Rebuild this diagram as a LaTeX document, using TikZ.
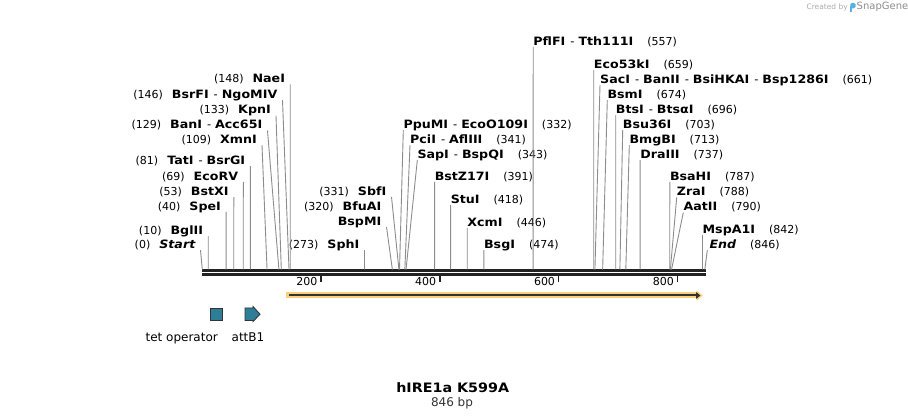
\documentclass[tikz,border=0pt]{standalone}
\usepackage{fontspec}
\setmainfont{DejaVu Sans}[BoldFont={DejaVu Sans Bold},ItalicFont={DejaVu Sans Oblique},BoldItalicFont={DejaVu Sans Bold Oblique},
  BoldFeatures={FakeStretch=1.1},BoldItalicFeatures={FakeStretch=1.1}]
\usetikzlibrary{arrows.meta}

\definecolor{featblue}{RGB}{46,126,152}
\definecolor{halo}{RGB}{255,208,122}
\definecolor{siteline}{RGB}{140,140,140}
\definecolor{axisgray}{RGB}{34,34,34}
\definecolor{snapblue}{RGB}{90,176,224}

\newcommand{\enzname}[1]{{\fontsize{11.5}{13}\selectfont\bfseries #1}}
\newcommand{\enzl}[2]{(#1)\hspace{9pt}\enzname{#2}}
\newcommand{\enzr}[2]{\enzname{#1}\hspace{14pt}(#2)}
\newcommand{\orenz}{{\mdseries\hspace{5pt}-\hspace{4pt}}}

\begin{document}
\begin{tikzpicture}[x=1pt,y=-1pt,
    lab/.style={inner sep=0pt, text height=8.4pt, text depth=1.6pt, font=\fontsize{11}{13}\selectfont},
    site/.style={draw=siteline, line width=0.9pt}]
    \useasboundingbox (0,0) rectangle (908,419);

    \foreach \p in {0,10,40,53,69,81,109,129,133,146,148,273,320,331,332,341,343,391,418,446,474,557,659,661,674,696,703,713,737,787,788,790,842,846}
        \coordinate (s\p) at ({202.3+0.594*\p},269.5);

    \draw[axisgray, line width=2.7pt] (202,270.6) -- (706,270.6);
    \draw[axisgray, line width=2.7pt] (202,274.3) -- (706,274.3);
    \foreach \t in {200,400,600,800} {
        \draw[axisgray, line width=1.4pt] ({202.3+0.594*\t},275.5) -- ++(0,7);
        \node[lab, anchor=east] (t\t) at ({202.3+0.594*\t-3.5},282) {\t};
    }

    % left side
    \node[lab, anchor=east] (naei)  at (285.2,79.3)  {\enzl{148}{NaeI}};
    \node[lab, anchor=east] (bsrfi) at (277.5,95)    {\enzl{146}{BsrFI\orenz NgoMIV}};
    \node[lab, anchor=east] (kpni)  at (271,110.5)   {\enzl{133}{KpnI}};
    \node[lab, anchor=east] (bani)  at (262.5,125.3) {\enzl{129}{BanI\orenz Acc65I}};
    \node[lab, anchor=east] (xmni)  at (257,140)     {\enzl{109}{XmnI}};
    \node[lab, anchor=east] (tati)  at (245.4,161)   {\enzl{81}{TatI\orenz BsrGI}};
    \node[lab, anchor=east] (ecorv) at (238.3,176.7) {\enzl{69}{EcoRV}};
    \node[lab, anchor=east] (bstxi) at (228.8,192)   {\enzl{53}{BstXI}};
    \node[lab, anchor=east] (spei)  at (221.1,206.7) {\enzl{40}{SpeI}};
    \node[lab, anchor=east] (bglii) at (203.2,231)   {\enzl{10}{BglII}};
    \node[lab, anchor=east] (start) at (195.5,245)   {\enzl{0}{\itshape Start}};
    \node[lab, anchor=east] (sphi)  at (359.5,245)   {\enzl{273}{SphI}};
    \node[lab, anchor=east] (bspmi) at (381.5,221.7) {\enzname{BspMI}};
    \node[lab, anchor=east] (bfuai) at (381.5,207.3) {\enzl{320}{BfuAI}};
    \node[lab, anchor=east] (sbfi)  at (386.5,191.7) {\enzl{331}{SbfI}};

    \draw[site] ([xshift=5pt]naei.south east) -- (s148);
    \draw[site] ([xshift=5pt]bsrfi.south east) -- (s146);
    \draw[site] ([xshift=5pt]kpni.south east) -- (s133);
    \draw[site] ([xshift=5pt]bani.south east) -- (s129);
    \draw[site] ([xshift=5pt]xmni.south east) -- (s109);
    \draw[site] ([xshift=5pt]tati.south east) -- (s81);
    \draw[site] ([xshift=5pt]ecorv.south east) -- (s69);
    \draw[site] ([xshift=5pt]bstxi.south east) -- (s53);
    \draw[site] ([xshift=5pt]spei.south east) -- (s40);
    \draw[site] ([xshift=5pt]bglii.south east) -- (s10);
    \draw[site] ([xshift=5pt]start.south east) -- (s0);
    \draw[site] ([xshift=5pt]sphi.south east) -- (s273);
    \draw[site] ([xshift=5pt]bspmi.south east) -- (s320);
    \draw[site] ([xshift=5pt]sbfi.south east) -- (s331);

    % right side
    \node[lab, anchor=west] (ppumi)  at (403.3,125)   {\enzr{PpuMI\orenz EcoO109I}{332}};
    \node[lab, anchor=west] (pcii)   at (410,140)     {\enzr{PciI\orenz AflIII}{341}};
    \node[lab, anchor=west] (sapi)   at (417.3,155)   {\enzr{SapI\orenz BspQI}{343}};
    \node[lab, anchor=west] (bstz)   at (434.55,176.7) {\enzr{BstZ17I}{391}};
    \node[lab, anchor=west] (stui)   at (450.6,200)   {\enzr{StuI}{418}};
    \node[lab, anchor=west] (xcmi)   at (467.2,222.7) {\enzr{XcmI}{446}};
    \node[lab, anchor=west] (bsgi)   at (483.9,245)   {\enzr{BsgI}{474}};
    \node[lab, anchor=west] (pflfi)  at (533.2,41.7)  {\enzr{PflFI\orenz Tth111I}{557}};
    \node[lab, anchor=west] (eco53ki) at (593.75,65)  {\enzr{Eco53kI}{659}};
    \node[lab, anchor=west] (saci)   at (600,80)      {\enzr{SacI\orenz BanII\orenz BsiHKAI\orenz Bsp1286I}{661}};
    \node[lab, anchor=west] (bsmi)   at (607.3,95)    {\enzr{BsmI}{674}};
    \node[lab, anchor=west] (btsi)   at (615.7,110)   {\enzr{BtsI\orenz BtsαI}{696}};
    \node[lab, anchor=west] (bsu36i) at (622.7,125)   {\enzr{Bsu36I}{703}};
    \node[lab, anchor=west] (bmgbi)  at (629.3,140)   {\enzr{BmgBI}{713}};
    \node[lab, anchor=west] (draiii) at (640.1,155)   {\enzr{DraIII}{737}};
    \node[lab, anchor=west] (bsahi)  at (669.8,176.7) {\enzr{BsaHI}{787}};
    \node[lab, anchor=west] (zrai)   at (676.7,192.3) {\enzr{ZraI}{788}};
    \node[lab, anchor=west] (aatii)  at (683.3,207.3) {\enzr{AatII}{790}};
    \node[lab, anchor=west] (mspa1i) at (702.45,230)  {\enzr{MspA1I}{842}};
    \node[lab, anchor=west] (endl)   at (709.3,245)   {\enzr{\itshape End}{846}};

    \draw[site] (ppumi.south west) -- (s332);
    \draw[site] (pcii.south west) -- (s341);
    \draw[site] (sapi.south west) -- (s343);
    \draw[site] (bstz.south west) -- (s391);
    \draw[site] (stui.south west) -- (s418);
    \draw[site] (xcmi.south west) -- (s446);
    \draw[site] (bsgi.south west) -- (s474);
    \draw[site] (pflfi.south west) -- (s557);
    \draw[site] (eco53ki.south west) -- (s659);
    \draw[site] (saci.south west) -- (s661);
    \draw[site] (bsmi.south west) -- (s674);
    \draw[site] (btsi.south west) -- (s696);
    \draw[site] (bsu36i.south west) -- (s703);
    \draw[site] (bmgbi.south west) -- (s713);
    \draw[site] (draiii.south west) -- (s737);
    \draw[site] (bsahi.south west) -- (s787);
    \draw[site] (zrai.south west) -- (s788);
    \draw[site] (aatii.south west) -- (s790);
    \draw[site] (mspa1i.south west) -- (s842);
    \draw[site] ([xshift=-2pt]endl.south west) -- (s846);

    % features
    \draw[halo, line width=6pt, -{Triangle[length=6pt,width=10pt]}] (286,295.5) -- (702.7,295.5);
    \draw[black!80, line width=2pt, -{Triangle[length=4.5pt,width=6.5pt]}] (289,295.5) -- (700.5,295.5);
    \draw[fill=featblue, draw=black!80, line width=0.9pt] (210.5,308) rectangle (222.5,320.5);
    \draw[fill=featblue, draw=black!80, line width=0.9pt, line join=miter]
        (245,308) -- (253,308) -- (253,306.5) -- (260,314.2) -- (253,321.5) -- (253,320.5) -- (245,320.5) -- cycle;
    \node[lab, font=\fontsize{12}{14}\selectfont] (tetop) at (181.7,337.7) {tet operator};
    \node[lab, font=\fontsize{12}{14}\selectfont] (attb1) at (248,337.7) {attB1};

    \node[font=\fontsize{13}{15}\selectfont\bfseries] (title) at (452.7,388) {hIRE1a K599A};
    \node[font=\fontsize{12}{14}\selectfont, text=black!80] (len) at (452,403.5) {846 bp};

    \node[font=\fontsize{7.5}{9}\selectfont, text=black!33, anchor=east, inner sep=0pt] (credit) at (848,7.3) {Created by};
    \fill[snapblue, rounded corners=1.5pt] (850.3,2.8) rectangle (855.5,8.3);
    \fill[snapblue] (850.3,6) rectangle (852.4,11.8);
    \node[font=\fontsize{10}{12}\selectfont, text=black!45, anchor=west, inner sep=0pt] (brand) at (856.5,7.3) {SnapGene};
\end{tikzpicture}
\end{document}
